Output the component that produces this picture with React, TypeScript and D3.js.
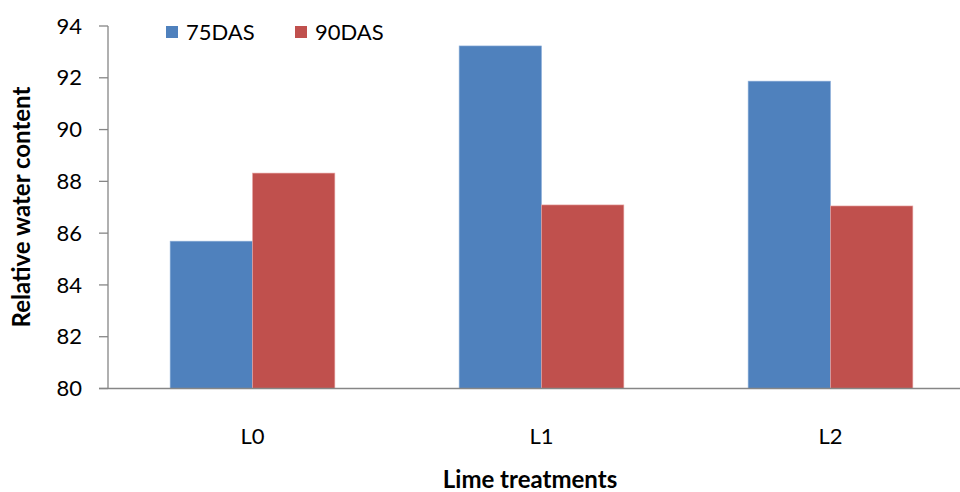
import React from "react";
import * as d3 from "d3";

// Relative water content by lime treatment, at two sampling dates
const categories = ["L0", "L1", "L2"];
const seriesNames = ["75DAS", "90DAS"];
const das75 = [85.69, 93.23, 91.87];
const das90 = [88.32, 87.09, 87.05];
const yTicks = [80, 82, 84, 86, 88, 90, 92, 94];

const seriesValues = [das75, das90];
const colors = ["#4F81BD", "#C0504D"];
const strokes = ["#8FB0DA", "#E8A9A7"];

const W = 960;
const H = 492;
const left = 108;
const top = 26;
const bottom = 388.5;
const FONT = "Lato, 'Open Sans', 'Liberation Sans', sans-serif";

export default function App() {
  const x = d3
    .scaleBand<string>()
    .domain(categories)
    .range([left, left + 3 * 289])
    .paddingInner(0.43)
    .paddingOuter(0.215);
  const xs = d3.scaleBand<string>().domain(seriesNames).range([0, x.bandwidth()]);
  const y = d3.scaleLinear().domain([80, 94]).range([bottom, top]);
  const axisColor = "#868686";

  return (
    <svg
      width={W}
      height={H}
      style={{ position: "absolute", left: 0, top: 0, background: "#fff" }}
      fontFamily={FONT}
    >
      {/* bars */}
      {categories.map((c, i) =>
        seriesNames.map((s, j) => {
          const v = seriesValues[j][i];
          const bx = (x(c) ?? 0) + (xs(s) ?? 0);
          return (
            <rect
              key={c + s}
              x={bx}
              y={y(v)}
              width={xs.bandwidth()}
              height={y(80) - y(v)}
              fill={colors[j]}
              stroke={strokes[j]}
              strokeWidth={0.6}
            />
          );
        })
      )}

      {/* y axis */}
      <line x1={left} x2={left} y1={y(94)} y2={y(80)} stroke={axisColor} strokeWidth={1.3} />
      {yTicks.map((t) => (
        <g key={t}>
          <line x1={left - 9} x2={left} y1={y(t)} y2={y(t)} stroke={axisColor} strokeWidth={1.3} />
          <text
            x={82}
            y={y(t)}
            dy="0.35em"
            textAnchor="end"
            fontSize={22}
            fill="#000"
          >
            {t}
          </text>
        </g>
      ))}

      {/* x axis */}
      <line x1={left - 9} x2={W} y1={y(80)} y2={y(80)} stroke={axisColor} strokeWidth={1.3} />
      {categories.map((c) => (
        <text
          key={c}
          x={(x(c) ?? 0) + x.bandwidth() / 2}
          y={444}
          textAnchor="middle"
          fontSize={22}
          fill="#000"
        >
          {c}
        </text>
      ))}

      {/* axis titles */}
      <text
        x={530}
        y={488}
        textAnchor="middle"
        fontSize={24}
        fontWeight="bold"
        fill="#000"
      >
        Lime treatments
      </text>
      <text
        transform={`translate(30, 207) rotate(-90)`}
        textAnchor="middle"
        fontSize={24}
        fontWeight="bold"
        fill="#000"
      >
        Relative water content
      </text>

      {/* legend */}
      {seriesNames.map((s, j) => {
        const lx = 166 + j * 129;
        return (
          <g key={s}>
            <rect x={lx} y={26} width={12} height={12} fill={colors[j]} />
            <text x={lx + 20} y={40} fontSize={22} fill="#000">
              {s}
            </text>
          </g>
        );
      })}
    </svg>
  );
}
